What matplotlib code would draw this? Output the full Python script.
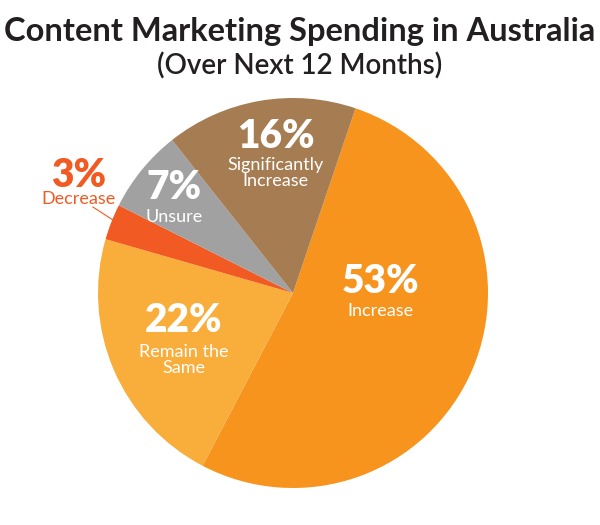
import matplotlib.pyplot as plt

categorias = ["Increase", "Remain the\nSame", "Decrease", "Unsure", "Significantly\nIncrease"]
percentuais = [53, 22, 3, 7, 16]
cores = ["#F7941D", "#F9AE3B", "#F15A22", "#A1A1A1", "#A67C52"]

plt.rcParams['font.family'] = ['Lato', 'DejaVu Sans']

fig = plt.figure(figsize=(6, 5.25), dpi=100)
ax = fig.add_axes([0, 0, 1, 1])

ax.pie(percentuais, colors=cores, startangle=71.3, counterclock=False,
       radius=1, center=(0, 0), wedgeprops=dict(linewidth=0))

ax.set_xlim(-293 / 195, 307 / 195)
ax.set_ylim(-232 / 195, 293 / 195)
ax.set_aspect('auto')
ax.axis('off')

# posições dos rótulos (relativas ao centro, raio = 1)
pos_pct = [(0.45, 0.06), (-0.56, -0.14), (-1.10, 0.605), (-0.61, 0.54), (-0.09, 0.80)]
pos_lab = [(0.45, -0.09), (-0.56, -0.345), (-1.10, 0.48), (-0.61, 0.39), (-0.09, 0.615)]
cor_txt = ["white", "white", "#F15A22", "white", "white"]

for p, lab, a, b, c in zip(percentuais, categorias, pos_pct, pos_lab, cor_txt):
    ax.text(a[0], a[1], f"{p}%", ha="center", va="center", color=c,
            fontsize=28, fontweight="heavy")
    ax.text(b[0], b[1], lab, ha="center", va="center", color=c,
            fontsize=13, linespacing=1.0)

# linha guia do 3%
ax.plot([-1.026, -0.923], [0.441, 0.374], color="#F15A22", lw=0.8)

fig.text(0.5, 1 - 31 / 525, "Content Marketing Spending in Australia",
         ha="center", va="center", fontsize=23.5, fontweight="bold", color="#231F20")
fig.text(0.5, 1 - 66 / 525, "(Over Next 12 Months)",
         ha="center", va="center", fontsize=20, fontweight="semibold", color="#231F20")

plt.savefig("out.png", dpi=100)
